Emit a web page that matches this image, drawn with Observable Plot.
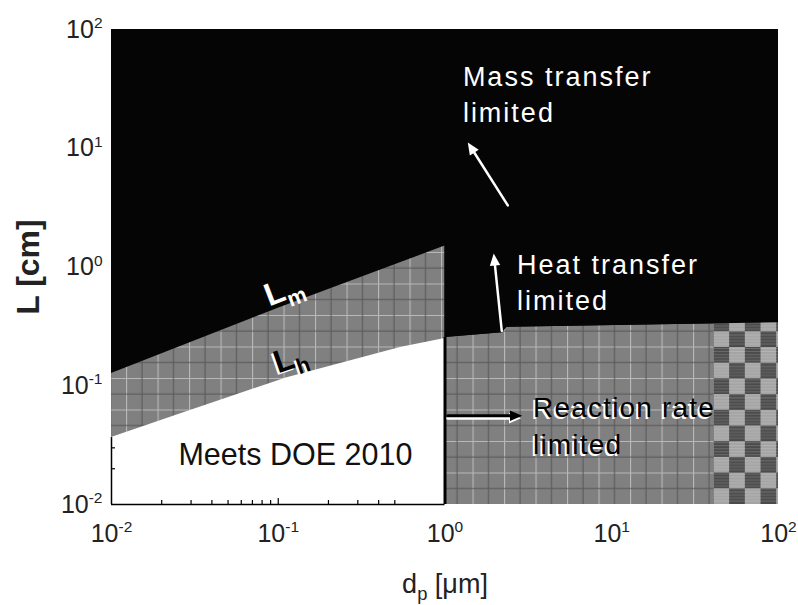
<!DOCTYPE html>
<html>
<head>
<meta charset="utf-8">
<script src="https://cdn.jsdelivr.net/npm/d3@7"></script>
<script src="https://cdn.jsdelivr.net/npm/@observablehq/plot@0.6"></script>
<style>
  body { margin: 0; background: #fff; }
  #chart svg { display: block; }
</style>
</head>
<body>
<svg width="0" height="0" style="position:absolute">
  <defs>
    <pattern id="grayTex" patternUnits="userSpaceOnUse" width="31.5" height="31.5">
      <rect width="31.5" height="31.5" fill="#808080"></rect>
      <path d="M0,0.5H31.5M0.5,0V31.5" stroke="#b8b8b8" stroke-width="1.2"></path>
      <path d="M0,16H31.5M16,0V31.5" stroke="#565656" stroke-width="1"></path>
    </pattern>
    <pattern id="checker" patternUnits="userSpaceOnUse" width="31.4" height="31.4">
      <rect width="31.4" height="31.4" fill="#a4a4a4"></rect>
      <rect width="15.7" height="15.7" fill="#4b4b4b"></rect>
      <rect x="15.7" y="15.7" width="15.7" height="15.7" fill="#4b4b4b"></rect>
      <path id="checkerStripes" stroke="#fff" stroke-opacity="0.18" stroke-width="1"></path>
    </pattern>
  </defs>
</svg>
<div id="chart"></div>
<script>
// Axis ticks (log decades) and minor ticks
const xTicks = [0.01, 0.1, 1, 10, 100];
const yTicks = [0.01, 0.1, 1, 10, 100];
const xMinor = [0.02, 0.03, 0.04, 0.05, 0.06, 0.07, 0.08, 0.09, 0.2, 0.3, 0.4, 0.5];
const yMinor = [0.02, 0.03];

// Mass-transfer limit L_m (d_p <= 1 μm)
const lmD = [0.01, 0.1, 1];
const lmL = [0.127, 0.45, 1.5];

// Heat-transfer limit L_h (d_p <= 1 μm)
const lhD = [0.01, 0.024, 0.113, 0.54, 1];
const lhL = [0.0366, 0.056, 0.117, 0.21, 0.25];

// Upper bound of the reaction-rate limited region (d_p >= 1 μm)
const rrD = [1, 2.2, 2.35, 8.5, 100];
const rrL = [0.255, 0.28, 0.31, 0.32, 0.34];

// Checkered band at large particle size
const checkerD = [41, 100];

// Region labels
const whiteLabels = ["Mass transfer\nlimited", "Heat transfer\nlimited"];
const whiteLabelD = [1.28, 2.70];
const whiteLabelL = [54.8, 1.43];

// Arrows: [white, white, black]
const arrowFromD = [2.38, 2.19, 1.04];
const arrowFromL = [3.3, 0.29, 0.056];
const arrowToD = [1.37, 1.96, 2.9];
const arrowToL = [11.2, 1.3, 0.056];

const layout = {
  width: 798,
  height: 605,
  marginLeft: 111,
  marginRight: 20,
  marginTop: 29,
  marginBottom: 101,
  x: {type: "log", domain: [xTicks[0], xTicks[xTicks.length - 1]], axis: null},
  y: {type: "log", domain: [yTicks[0], yTicks[yTicks.length - 1]], axis: null}
};

// First pass: resolve the scales so arrowheads can be oriented on screen
const probe = Plot.plot({...layout, marks: [Plot.dot(xTicks, {x: d => d, y: d => d})]});
const sx = probe.scale("x"), sy = probe.scale("y");

const arrows = arrowFromD.map((d, i) => ({
  x1: d, y1: arrowFromL[i], x2: arrowToD[i], y2: arrowToL[i],
  angle: Math.atan2(sx.apply(arrowToD[i]) - sx.apply(d),
                    -(sy.apply(arrowToL[i]) - sy.apply(arrowFromL[i]))) * 180 / Math.PI
}));
const whiteArrows = arrows.slice(0, 2);
const blackArrows = arrows.slice(2);

// Align the checkerboard with the start of the band
const checker = document.getElementById("checker");
checker.setAttribute("x", sx.apply(checkerD[0]));
checker.setAttribute("y", sy.apply(yTicks[0]));
document.getElementById("checkerStripes").setAttribute("d",
  d3.range(1.5, 31.4, 3).map(v => `M0,${v}H31.4`).join(""));

// Filled triangular arrowhead, tip at the origin, pointing up
const headSymbol = {
  draw(ctx, size) {
    const r = Math.sqrt(size / Math.PI);
    ctx.moveTo(0, 0);
    ctx.lineTo(-0.95 * r, 2.2 * r);
    ctx.lineTo(0.95 * r, 2.2 * r);
    ctx.closePath();
  }
};

const lm = lmD.map((d, i) => ({d, L: lmL[i]}));
const lh = lhD.map((d, i) => ({d, L: lhL[i]}));
const rr = rrD.map((d, i) => ({d, L: rrL[i]}));
const xMin = xTicks[0], xMax = xTicks[xTicks.length - 1];
const yMin = yTicks[0], yMax = yTicks[yTicks.length - 1];

const chart = Plot.plot({
  ...layout,
  style: {fontFamily: "'Liberation Sans', Arial, sans-serif", fontSize: "24px", background: "white", color: "black"},
  marks: [
    // mass transfer limited (everything above the limits)
    Plot.rect([0], {x1: xMin, x2: xMax, y1: yMin, y2: yMax, fill: "#050505"}),
    // heat transfer limited band below L_m
    Plot.areaY(lm, {x: "d", y1: yMin, y2: "L", fill: "url(#grayTex)"}),
    // reaction-rate limited region for d_p >= 1 μm
    Plot.areaY(rr, {x: "d", y1: yMin, y2: "L", fill: "url(#grayTex)"}),
    Plot.rect([0], {x1: checkerD[0], x2: checkerD[1], y1: yMin, y2: yMax, fill: "url(#checker)"}),
    Plot.areaY(rr, {x: "d", y1: "L", y2: yMax, fill: "#050505"}),
    // feasible region below L_h
    Plot.areaY(lh, {x: "d", y1: yMin, y2: "L", fill: "white"}),
    Plot.ruleX([rrD[0]], {y1: yMin, y2: rrL[0], stroke: "black", strokeWidth: 3}),

    // axis lines and inward ticks where the axes are visible
    Plot.ruleY([yMin], {x1: xMin, x2: lhD[lhD.length - 1], stroke: "black", strokeWidth: 1.5}),
    Plot.ruleX([xMin], {y1: yMin, y2: lhL[0], stroke: "black", strokeWidth: 1.5}),
    Plot.axisX({ticks: xMinor, anchor: "bottom", tickSize: 4, dy: -4, tickFormat: () => "", label: null, strokeWidth: 1.2}),
    Plot.axisX({ticks: [0.1], anchor: "bottom", tickSize: 6, dy: -6, tickFormat: () => "", label: null, strokeWidth: 1.2}),
    Plot.axisY({ticks: yMinor, anchor: "left", tickSize: 4, dx: 4, tickFormat: () => "", label: null, strokeWidth: 1.2}),

    // tick labels
    Plot.text(xTicks, {x: d => d, frameAnchor: "bottom", dy: 29, text: d => `10^${Math.round(Math.log10(d))}`,
      textAnchor: "middle", lineAnchor: "middle", fontSize: 25, fill: "#222"}),
    Plot.text(yTicks, {y: d => d, frameAnchor: "left", dx: -9, text: d => `10^${Math.round(Math.log10(d))}`,
      textAnchor: "end", lineAnchor: "middle", fontSize: 25, fill: "#222"}),

    // axis titles
    Plot.text(["d_p [μm]"], {frameAnchor: "bottom", dy: 80, fontSize: 27, textAnchor: "middle",
      lineAnchor: "middle", fill: "#222"}),
    Plot.text(["L [cm]"], {frameAnchor: "left", dx: -83, rotate: -90, fontSize: 32, textAnchor: "middle",
      lineAnchor: "middle", fill: "#222", fontWeight: "bold"}),

    // region labels
    Plot.text(whiteLabels, {x: (d, i) => whiteLabelD[i], y: (d, i) => whiteLabelL[i], text: d => d,
      textAnchor: "start", lineAnchor: "top", fontSize: 27, lineHeight: 1.33, fill: "white"}),
    Plot.text(["Reaction rate\nlimited"], {x: 3.37, y: 0.0912, textAnchor: "start", lineAnchor: "top",
      fontSize: 28, lineHeight: 1.32, fill: "white", dx: -2, dy: 2}),
    Plot.text(["Reaction rate\nlimited"], {x: 3.37, y: 0.0912, textAnchor: "start", lineAnchor: "top",
      fontSize: 28, lineHeight: 1.32, fill: "black"}),
    Plot.text(["Meets DOE 2010"], {x: 0.0252, y: 0.0327, textAnchor: "start", lineAnchor: "top",
      fontSize: 30.5, fill: "#111"}),

    // boundary names
    Plot.text(["L_m"], {x: 0.108, y: 0.64, rotate: -21, fontSize: 32, fontWeight: "bold", fill: "white",
      lineAnchor: "middle"}),
    Plot.text(["L_h"], {x: 0.118, y: 0.17, rotate: -19, fontSize: 32, fontWeight: "bold", fill: "white",
      lineAnchor: "middle", dx: -2, dy: 2}),
    Plot.text(["L_h"], {x: 0.118, y: 0.17, rotate: -19, fontSize: 32, fontWeight: "bold", fill: "black",
      lineAnchor: "middle"}),

    // arrows
    Plot.arrow(whiteArrows, {x1: "x1", y1: "y1", x2: "x2", y2: "y2", stroke: "white", strokeWidth: 2.5,
      headLength: 0, insetEnd: 9}),
    Plot.dot(whiteArrows, {x: "x2", y: "y2", rotate: "angle", symbol: headSymbol, r: 5.5, fill: "white"}),
    Plot.arrow(blackArrows, {x1: "x1", y1: "y1", x2: "x2", y2: "y2", stroke: "white", strokeWidth: 3,
      headLength: 0, insetEnd: 9, dy: 2.5}),
    Plot.dot(blackArrows, {x: "x2", y: "y2", rotate: "angle", symbol: headSymbol, r: 5.5, fill: "white", dx: -1, dy: 2.5}),
    Plot.arrow(blackArrows, {x1: "x1", y1: "y1", x2: "x2", y2: "y2", stroke: "black", strokeWidth: 3,
      headLength: 0, insetEnd: 9}),
    Plot.dot(blackArrows, {x: "x2", y: "y2", rotate: "angle", symbol: headSymbol, r: 5.5, fill: "black"})
  ]
});

document.getElementById("chart").append(chart);

// Letter spacing of the region labels
const tracking = [[/transfer/, 2.0], [/Reaction/, 1.2]];

// Typeset powers of ten ("10^e") and subscripts ("L_m", "d_p [μm]")
d3.select(chart).selectAll("text").each(function () {
  const s = this.textContent;
  for (const [re, ls] of tracking) if (re.test(s)) this.setAttribute("letter-spacing", ls);
  if (this.querySelector("tspan")) return;
  const size = parseFloat(getComputedStyle(this).fontSize);
  if (s.includes("^")) {
    const [base, exp] = s.split("^");
    const t = d3.select(this).text("");
    t.append("tspan").text(base);
    t.append("tspan").attr("dy", -0.38 * size).attr("font-size", 0.62 * size).text(exp);
  } else if (s.includes("_")) {
    const [base, rest] = s.split("_");
    const [sub, ...tail] = rest.split(" ");
    const t = d3.select(this).text("");
    t.append("tspan").text(base);
    t.append("tspan").attr("dy", 0.25 * size).attr("font-size", 0.68 * size).text(sub);
    if (tail.length) t.append("tspan").attr("dy", -0.25 * size).text(" " + tail.join(" "));
  }
});
</script>
</body>
</html>
